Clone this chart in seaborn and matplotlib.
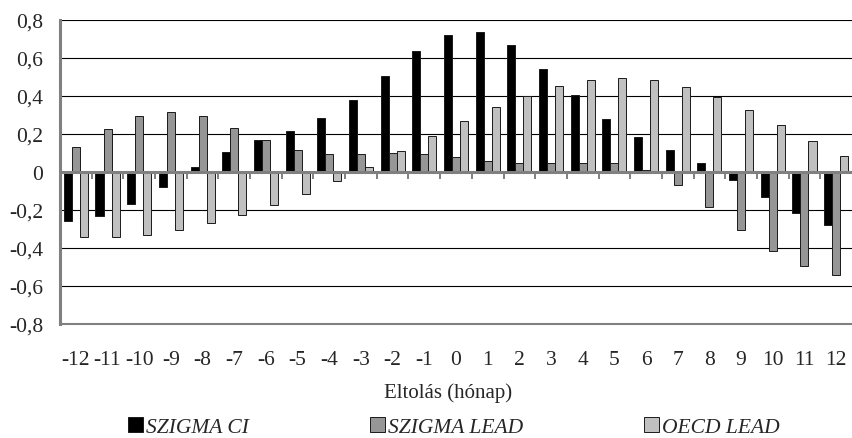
import numpy as np
import pandas as pd
import matplotlib
matplotlib.use("Agg")
import matplotlib.pyplot as plt
from matplotlib.patches import Patch
import seaborn as sns

categories = [str(i) for i in range(-12, 13)]
szigma_ci = [-0.26, -0.23, -0.168, -0.08, 0.025, 0.107, 0.167, 0.218, 0.284, 0.38, 0.507,
             0.635, 0.723, 0.735, 0.667, 0.542, 0.404, 0.281, 0.186, 0.116, 0.046,
             -0.042, -0.132, -0.218, -0.277]
szigma_lead = [0.13, 0.225, 0.293, 0.318, 0.293, 0.233, 0.167, 0.116, 0.096, 0.096, 0.1,
               0.096, 0.081, 0.06, 0.046, 0.046, 0.049, 0.046, 0.009, -0.07, -0.184,
               -0.305, -0.414, -0.495, -0.54]
oecd_lead = [-0.344, -0.34, -0.33, -0.307, -0.27, -0.228, -0.175, -0.116, -0.047, 0.028, 0.109,
             0.191, 0.27, 0.34, 0.402, 0.451, 0.482, 0.493, 0.482, 0.449, 0.395,
             0.328, 0.249, 0.165, 0.086]
series_names = ["SZIGMA CI", "SZIGMA LEAD", "OECD LEAD"]
colors = ["#000000", "#969696", "#c0c0c0"]
y_ticks = [-0.8, -0.6, -0.4, -0.2, 0, 0.2, 0.4, 0.6, 0.8]
y_labels = ["-0,8", "-0,6", "-0,4", "-0,2", "0", "0,2", "0,4", "0,6", "0,8"]

df = pd.DataFrame({
    "cat": categories * 3,
    "val": szigma_ci + szigma_lead + oecd_lead,
    "series": sum([[s] * len(categories) for s in series_names], []),
})

sns.set_style("white")
plt.rcParams["font.family"] = ["Liberation Serif", "DejaVu Serif"]
FS = 15.5

fig = plt.figure(figsize=(8.53, 4.39), dpi=100)
ax = fig.add_axes([60 / 853, 1 - 325 / 439, 792 / 853, 304 / 439])

sns.barplot(data=df, x="cat", y="val", hue="series", order=categories,
            hue_order=series_names, palette=colors, width=0.76,
            edgecolor="#1a1a1a", linewidth=0.7, ax=ax, legend=False, zorder=3)

ax.set_ylim(-0.8, 0.8)
ax.set_xlim(-0.5, len(categories) - 0.5)
ax.set_yticks(y_ticks)
ax.set_yticklabels(y_labels, fontsize=FS)
ax.set_xticks(range(len(categories)))
ax.set_xticklabels(categories, fontsize=FS)
ax.tick_params(axis="x", length=0, pad=19)
ax.tick_params(axis="y", length=5, width=1.2, color="#808080", direction="out", pad=7)
for yv in y_ticks:
    ax.axhline(yv, color="#000000", lw=0.8, zorder=1)
ax.axhline(0, color="#808080", lw=2.2, zorder=4)
# category boundary ticks on zero line
for b in np.arange(0.5, len(categories) - 0.5, 1.0):
    ax.plot([b, b], [0, -0.035], color="#808080", lw=1.4, zorder=4, solid_capstyle="butt")

for s in ["top", "right"]:
    ax.spines[s].set_visible(False)
ax.spines["left"].set_color("#808080")
ax.spines["left"].set_linewidth(2.2)
ax.spines["bottom"].set_color("#808080")
ax.spines["bottom"].set_linewidth(1.5)
ax.set_xlabel("Eltolás (hónap)", fontsize=15, labelpad=9, x=0.49)
ax.set_ylabel("")

handles = [Patch(facecolor=c, edgecolor="#1a1a1a", linewidth=0.7) for c in colors]
fig.legend(handles, series_names, loc="center left", bbox_to_anchor=(128 / 853, 11 / 439), ncol=3,
           frameon=False, prop={"style": "italic", "size": 15.5, "family": "Liberation Serif"},
           borderpad=0, borderaxespad=0,
           handlelength=0.7, handleheight=0.7, handletextpad=0.15, columnspacing=5.6)

fig.savefig("out.png", dpi=100)
